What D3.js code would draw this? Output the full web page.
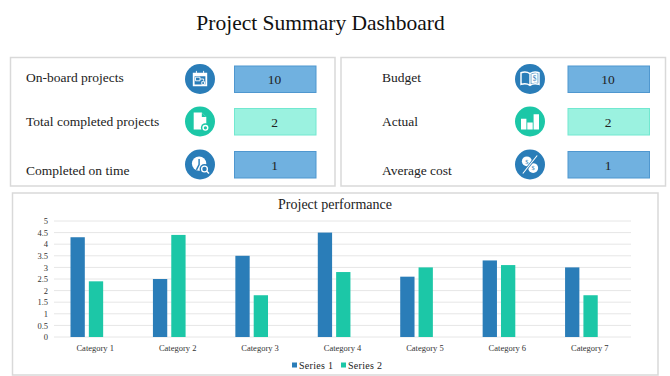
<!DOCTYPE html>
<html>
<head>
<meta charset="utf-8">
<script src="https://cdn.jsdelivr.net/npm/d3@7"></script>
<style>
  html, body { margin: 0; padding: 0; background: #fff; }
  text { font-family: "Liberation Serif", serif; fill: #222; }
</style>
</head>
<body>
<div id="chart"></div>
<script>
const categories = ["Category 1", "Category 2", "Category 3", "Category 4", "Category 5", "Category 6", "Category 7"];
const series1 = [4.3, 2.5, 3.5, 4.5, 2.6, 3.3, 3];
const series2 = [2.4, 4.4, 1.8, 2.8, 3, 3.1, 1.8];
const seriesNames = ["Series 1", "Series 2"];
const yTicks = [0, 0.5, 1, 1.5, 2, 2.5, 3, 3.5, 4, 4.5, 5];

const leftLabels = ["On-board projects", "Total completed projects", "Completed on time"];
const rightLabels = ["Budget", "Actual", "Average cost"];
const kpiValues = [10, 2, 1];

const blue = "#2a7db8", teal = "#1cc7a7";

const svg = d3.select("#chart").append("svg")
    .attr("width", 670)
    .attr("height", 376)
    .style("display", "block");

svg.append("text")
    .attr("x", 320.5)
    .attr("y", 30)
    .attr("text-anchor", "middle")
    .attr("font-size", "21.5px")
    .style("fill", "#111")
    .text("Project Summary Dashboard");

// cajas de fondo
function panel(x, y, w, h) {
    svg.append("rect")
        .attr("x", x).attr("y", y)
        .attr("width", w).attr("height", h)
        .attr("fill", "#fff")
        .attr("stroke", "#d9d9d9")
        .attr("stroke-width", 1.5);
}
panel(10.5, 57.5, 324.5, 128.5);
panel(341, 57.5, 324.5, 128.5);
panel(12.5, 193, 645.5, 182);

// iconos, cada uno dibujado en blanco sobre el circulo
const icons = {
    calendar(g) {
        g.append("path").attr("fill", "#fff")
            .attr("d", "M-8,-7H8V8H-8Z M-6,-3V6H6V-3Z").attr("fill-rule", "evenodd");
        g.append("path").attr("stroke", "#fff").attr("fill", "none").attr("d", "M-4,-9V-5M4,-9V-5");
        g.append("path").attr("stroke", "#fff").attr("fill", "none").attr("d", "M-5,-2H0V2H-5Z M0,0H4V2 M2,3H5V6H2Z");
    },
    file(g) {
        g.append("path").attr("fill", "#fff").attr("d", "M-7,-10H2L7,-5V9H-7Z");
        g.append("path").attr("fill", teal).attr("d", "M2,-10V-5H7Z");
        g.append("circle").attr("cx", 6).attr("cy", 7).attr("r", 5).attr("fill", teal);
        g.append("circle").attr("cx", 6).attr("cy", 7).attr("r", 2.6).attr("fill", "none").attr("stroke", "#fff").attr("stroke-width", 1.6);
    },
    clock(g) {
        g.append("circle").attr("cx", -1).attr("cy", -1).attr("r", 8).attr("fill", "#fff");
        g.append("path").attr("stroke", blue).attr("stroke-width", 1.6).attr("fill", "none").attr("d", "M-1,-6V0L-4,6");
        g.append("circle").attr("cx", 5).attr("cy", 5).attr("r", 5.5).attr("fill", blue);
        g.append("circle").attr("cx", 5).attr("cy", 5).attr("r", 3.2).attr("fill", "none").attr("stroke", "#fff").attr("stroke-width", 1.5);
        g.append("path").attr("stroke", "#fff").attr("stroke-width", 1.5).attr("d", "M7.5,7.5L10,10");
    },
    book(g) {
        g.append("path").attr("fill", "none").attr("stroke", "#fff").attr("stroke-width", 1.6)
            .attr("d", "M0,-6C-3,-8 -7,-8 -10,-7V6C-7,5 -3,5 0,7C3,5 7,5 10,6V-7C7,-8 3,-8 0,-6V7");
        g.append("path").attr("fill", "#fff").attr("d", "M1.5,-5.5C4,-6.5 6,-6.5 8.5,-6V4.5C6,4 4,4 1.5,5Z");
        g.append("text").attr("x", 5).attr("y", 2).attr("text-anchor", "middle").attr("font-size", "8px").style("fill", blue).text("$");
    },
    bars(g) {
        g.append("path").attr("fill", "#fff").attr("d", "M-10,-3H-4V9H-10Z M-3,1H3V9H-3Z M4,-8H10V9H4Z");
    },
    percent(g) {
        g.append("circle").attr("cx", -3.5).attr("cy", -3.5).attr("r", 5.5).attr("fill", "#fff");
        g.append("circle").attr("cx", 3.5).attr("cy", 4).attr("r", 5.5).attr("fill", "#fff");
        g.append("path").attr("stroke", blue).attr("stroke-width", 3).attr("d", "M-8,10L8,-10");
        g.append("path").attr("stroke", "#fff").attr("stroke-width", 1.2).attr("d", "M-8,10L8,-10");
        g.append("text").attr("x", -3.5).attr("y", -1).attr("text-anchor", "middle").attr("font-size", "7px").style("fill", blue).text("$");
        g.append("text").attr("x", 3.5).attr("y", 6.5).attr("text-anchor", "middle").attr("font-size", "7px").style("fill", blue).text("$");
    }
};

const rowY = d3.scaleOrdinal().domain([0, 1, 2]).range([79, 121.5, 164.5]);
const labelY = d3.scaleOrdinal().domain([0, 1, 2]).range([82, 126, 175]);

function kpiColumn(labels, labelX, iconX, boxX, iconNames) {
    labels.forEach((label, i) => {
        svg.append("text")
            .attr("x", labelX).attr("y", labelY(i))
            .attr("font-size", "13.5px")
            .text(label);

        const g = svg.append("g").attr("transform", "translate(" + iconX + "," + rowY(i) + ")");
        g.append("circle").attr("r", 15).attr("fill", i === 1 ? teal : blue);
        icons[iconNames[i]](g.append("g").attr("transform", "scale(0.9)"));

        svg.append("rect")
            .attr("x", boxX).attr("y", rowY(i) - 13)
            .attr("width", 81.5).attr("height", 26.5)
            .attr("fill", i === 1 ? "#9bf2e0" : "#70b1e0")
            .attr("stroke", i === 1 ? "#72e8d0" : "#4f97cf");
        svg.append("text")
            .attr("x", boxX + 40).attr("y", rowY(i) + 5)
            .attr("text-anchor", "middle")
            .attr("font-size", "13.5px")
            .text(kpiValues[i]);
    });
}
kpiColumn(leftLabels, 26, 200, 234.5, ["calendar", "file", "clock"]);
kpiColumn(rightLabels, 382, 530, 568, ["book", "bars", "percent"]);

// grafico de barras
svg.append("text")
    .attr("x", 335)
    .attr("y", 209)
    .attr("text-anchor", "middle")
    .attr("font-size", "14px")
    .text("Project performance");

const x = d3.scaleBand().domain(categories).range([54, 631]);
const x1 = d3.scaleBand()
    .domain(["Series 1", "Series 2", ""])
    .range([16.5, 67.5])
    .paddingInner(0.22);
const y = d3.scaleLinear().domain([0, 5]).range([337, 221]);

svg.append("g")
    .selectAll("line")
    .data(yTicks)
    .enter().append("line")
    .attr("x1", 54).attr("x2", 631)
    .attr("y1", d => y(d)).attr("y2", d => y(d))
    .attr("stroke", "#e6e6e6");

const yAxis = svg.append("g")
    .attr("transform", "translate(54,0)")
    .call(d3.axisLeft(y).tickValues(yTicks).tickSize(0).tickPadding(6).tickFormat(d => d));
yAxis.select(".domain").remove();
yAxis.selectAll("text").attr("font-size", "8.5px").style("font-family", "'Liberation Serif', serif").style("fill", "#333");

const xAxis = svg.append("g")
    .attr("transform", "translate(0,337)")
    .call(d3.axisBottom(x).tickSize(0).tickPadding(8));
xAxis.select(".domain").remove();
xAxis.selectAll("text").attr("font-size", "8.5px").style("font-family", "'Liberation Serif', serif").style("fill", "#333");

[series1, series2].forEach((values, s) => {
    svg.append("g")
        .selectAll("rect")
        .data(values)
        .enter().append("rect")
        .attr("x", (d, i) => x(categories[i]) + x1(seriesNames[s]))
        .attr("width", x1.bandwidth())
        .attr("y", d => y(d))
        .attr("height", d => y(0) - y(d))
        .attr("fill", s === 0 ? blue : teal);
});

// leyenda
const legendX = [292, 341];
seriesNames.forEach((name, i) => {
    svg.append("rect")
        .attr("x", legendX[i]).attr("y", 362.5)
        .attr("width", 5).attr("height", 5)
        .attr("fill", i === 0 ? blue : teal);
    svg.append("text")
        .attr("x", legendX[i] + 7).attr("y", 369)
        .attr("font-size", "10px")
        .style("letter-spacing", "0.3px")
        .text(name);
});
</script>
</body>
</html>
